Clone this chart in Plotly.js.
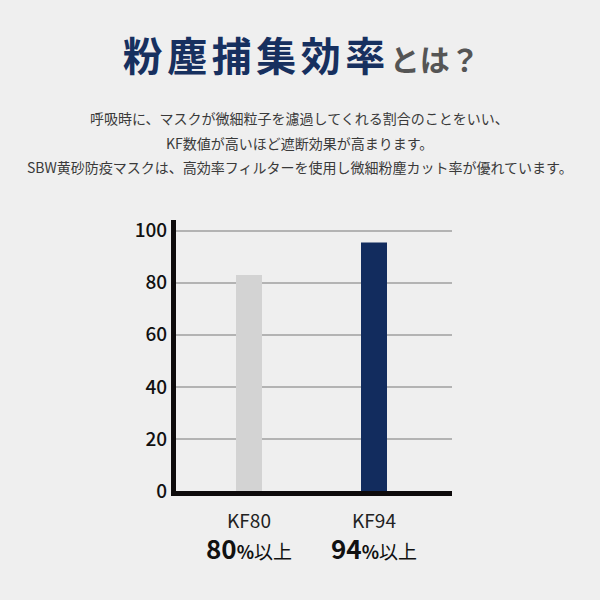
<!DOCTYPE html>
<html>
<head>
<meta charset="utf-8">
<script src="https://cdn.plot.ly/plotly-3.0.1.min.js"></script>
<style>
html,body{margin:0;padding:0;background:#efefef;}
#chart{width:600px;height:600px;}
</style>
</head>
<body>
<div id="chart"></div>
<script>
const categories = ["KF80", "KF94"];
const values = [83, 95.5];
const percentLabels = ["80", "94"];
const barColors = ["#d3d3d3", "#122c5e"];
const tickValues = [0, 20, 40, 60, 80, 100];
const titleMain = "粉塵捕集効率";
const titleSub = "とは？";
const descriptionLines = [
  "呼吸時に、マスクが微細粒子を濾過してくれる割合のことをいい、",
  "KF数値が高いほど遮断効果が高まります。",
  "SBW黄砂防疫マスクは、高効率フィルターを使用し微細粉塵カット率が優れています。"
];

const FONT = "'Noto Sans CJK JP', 'Noto Sans', sans-serif";

const annotations = [];
descriptionLines.forEach((line, i) => {
  annotations.push({
    text: line, xref: "paper", yref: "paper",
    x: 0.449, y: (491 - (118 + i * 24.5)) / 271,
    xanchor: "center", yanchor: "middle", showarrow: false,
    font: {family: FONT, size: 14, color: "#3a3a3a"}
  });
});
categories.forEach((c, i) => {
  annotations.push({
    text: '<b><span style="font-size:26px">' + percentLabels[i] + '</span><span style="font-size:18px">%</span></b><span style="font-size:19px">以上</span>',
    xref: "x", yref: "paper", x: c, y: (491 - 547) / 271,
    xanchor: "center", yanchor: "middle", showarrow: false,
    font: {family: FONT, size: 19, color: "#111"}
  });
});

const data = [{
  type: "bar",
  x: categories,
  y: values,
  width: 0.208,
  marker: {color: barColors, line: {width: 0}},
  hoverinfo: "skip"
}];

const layout = {
  width: 600, height: 600,
  paper_bgcolor: "#efefef", plot_bgcolor: "#efefef",
  margin: {l: 176, r: 148, t: 220, b: 109, pad: 0},
  showlegend: false,
  title: {
    text: '<b><span style="color:#17305f;font-size:40px;letter-spacing:4.5px">' + titleMain + '</span><span style="color:#555;font-size:30px">' + titleSub + '</span></b>',
    x: 0.502, xref: "container", xanchor: "center",
    y: 1 - 57 / 600, yref: "container", yanchor: "middle",
    font: {family: FONT, size: 40, color: "#17305f"}
  },
  xaxis: {
    type: "category",
    range: [-0.584, 1.624],
    showline: true, linewidth: 5, linecolor: "#0d0a0b",
    showgrid: false, zeroline: false, ticks: "",
    ticklabelstandoff: 9,
    tickfont: {family: FONT, size: 19, color: "#222"},
    fixedrange: true
  },
  yaxis: {
    range: [0, 104.1],
    tickvals: tickValues,
    showline: true, linewidth: 5, linecolor: "#0d0a0b",
    showgrid: true, gridcolor: "#b3b3b3", gridwidth: 2,
    zeroline: false, ticks: "",
    tickfont: {family: FONT, size: 19, color: "#111", weight: 500},
    fixedrange: true
  },
  annotations: annotations
};

Plotly.newPlot("chart", data, layout, {displayModeBar: false, staticPlot: true});
</script>
</body>
</html>
